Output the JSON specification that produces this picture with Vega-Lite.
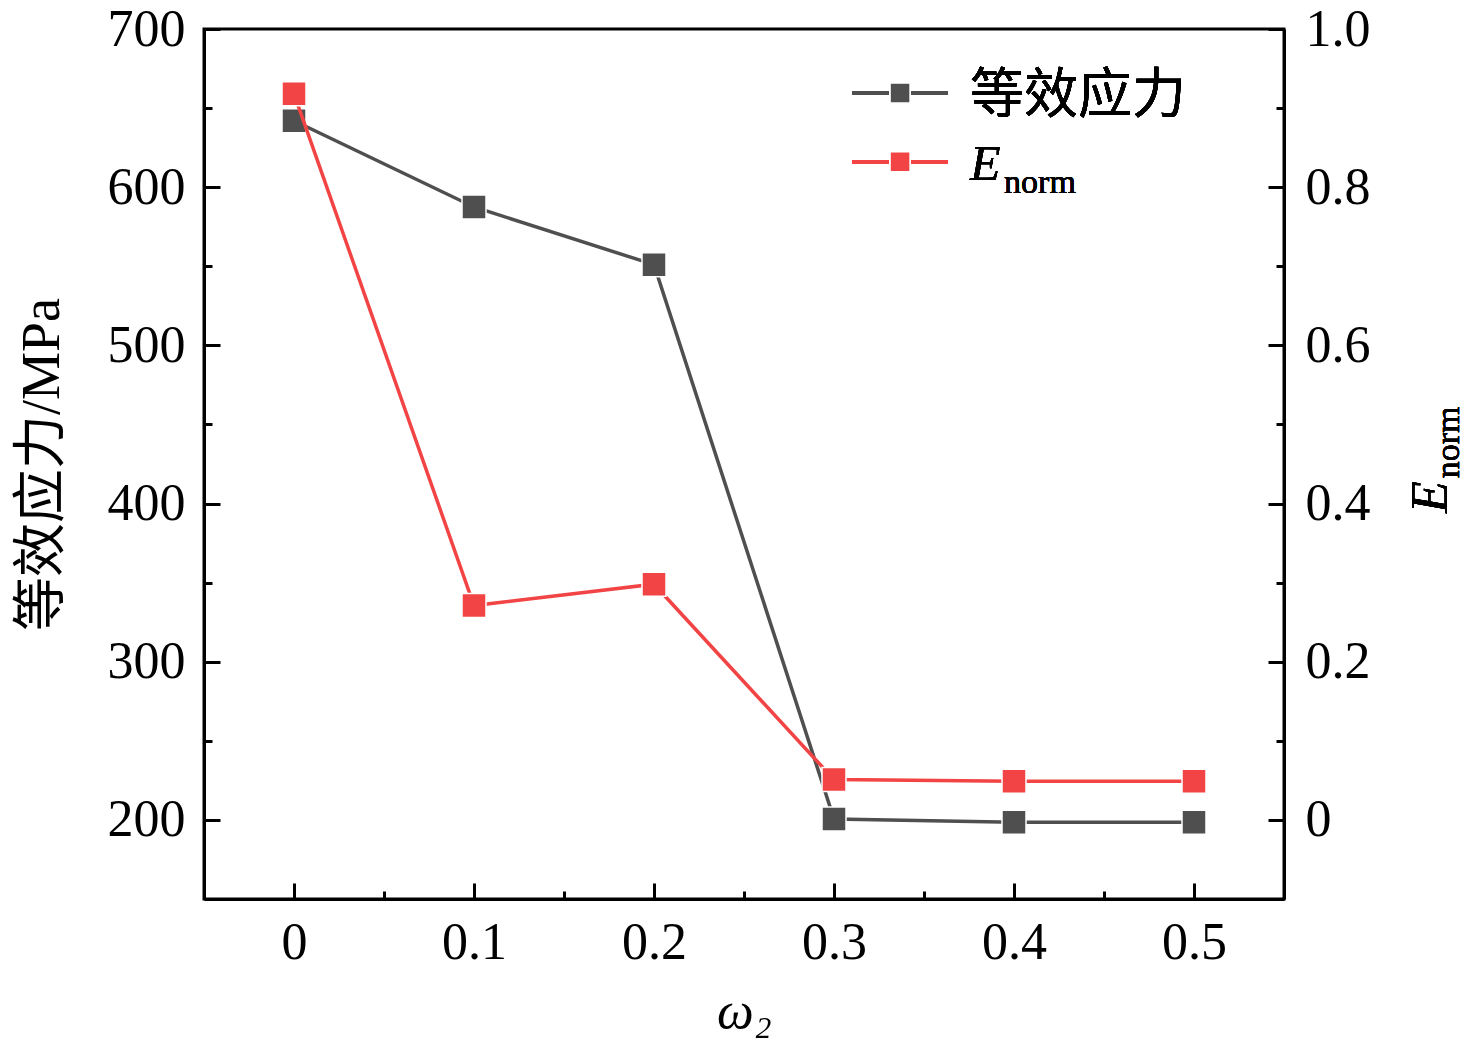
{
  "$schema": "https://vega.github.io/schema/vega-lite/v6.json",
  "width": 1080,
  "height": 870,
  "autosize": {"type": "none"},
  "padding": {"left": 204, "top": 29, "right": 192, "bottom": 154},
  "background": "white",
  "data": {
    "values": [
      {"w": 0.0, "stress": 642, "enorm": 0.918},
      {"w": 0.1, "stress": 587.5, "enorm": 0.271},
      {"w": 0.2, "stress": 551, "enorm": 0.298},
      {"w": 0.3, "stress": 200.6, "enorm": 0.051},
      {"w": 0.4, "stress": 198.5, "enorm": 0.049},
      {"w": 0.5, "stress": 198.5, "enorm": 0.049}
    ]
  },
  "layer": [
    {
      "layer": [
        {
          "mark": {"type": "line", "color": "#4f4f4f", "strokeWidth": 3.5},
          "encoding": {
            "x": {
              "field": "w", "type": "quantitative",
              "scale": {"domain": [-0.05, 0.55], "nice": false, "zero": false},
              "axis": {
                "orient": "bottom",
                "title": "ω₂",
                "titleFontStyle": "italic",
                "titlePadding": 10,
                "values": [0, 0.05, 0.1, 0.15, 0.2, 0.25, 0.3, 0.35, 0.4, 0.45, 0.5],
                "labelExpr": "round(datum.value*20) % 2 == 0 ? format(datum.value, '.1~f') : ''",
                "tickSize": {"condition": {"test": "round(datum.value*20) % 2 == 0", "value": -16}, "value": -8},
                "labelPadding": 34
              }
            },
            "y": {
              "field": "stress", "type": "quantitative",
              "scale": {"domain": [150, 700], "nice": false, "zero": false},
              "axis": {
                "orient": "left",
                "title": "等效应力/MPa",
                "titleFontSize": 54,
                "titlePadding": 38,
                "values": [200, 250, 300, 350, 400, 450, 500, 550, 600, 650, 700],
                "labelExpr": "datum.value % 100 == 0 ? datum.label : ''",
                "tickSize": {"condition": {"test": "datum.value % 100 == 0", "value": -16}, "value": -8},
                "labelPadding": 35
              }
            }
          }
        },
        {
          "mark": {"type": "point", "shape": "square", "filled": true, "size": 576, "color": "#4f4f4f", "stroke": "white", "strokeWidth": 1.5, "opacity": 1},
          "encoding": {
            "x": {"field": "w", "type": "quantitative"},
            "y": {"field": "stress", "type": "quantitative"}
          }
        },
        {
          "mark": {"type": "rule", "color": "#4f4f4f", "strokeWidth": 3.5},
          "encoding": {
            "x": {"datum": 0.31, "type": "quantitative"},
            "x2": {"datum": 0.3633},
            "y": {"datum": 659.5, "type": "quantitative"}
          }
        },
        {
          "mark": {"type": "point", "shape": "square", "filled": true, "size": 400, "color": "#4f4f4f", "stroke": "white", "strokeWidth": 1.5, "opacity": 1},
          "encoding": {
            "x": {"datum": 0.3367, "type": "quantitative"},
            "y": {"datum": 659.5, "type": "quantitative"}
          }
        },
        {
          "mark": {"type": "rule", "color": "#f24444", "strokeWidth": 3.5},
          "encoding": {
            "x": {"datum": 0.31, "type": "quantitative"},
            "x2": {"datum": 0.3633},
            "y": {"datum": 616, "type": "quantitative"}
          }
        },
        {
          "mark": {"type": "point", "shape": "square", "filled": true, "size": 400, "color": "#f24444", "stroke": "white", "strokeWidth": 1.5, "opacity": 1},
          "encoding": {
            "x": {"datum": 0.3367, "type": "quantitative"},
            "y": {"datum": 616, "type": "quantitative"}
          }
        },
        {
          "mark": {"type": "text", "text": "等效应力", "font": "Noto Sans CJK SC", "fontSize": 54, "align": "left", "baseline": "middle", "color": "black"},
          "encoding": {
            "x": {"datum": 0.3756, "type": "quantitative"},
            "y": {"datum": 657, "type": "quantitative"}
          }
        },
        {
          "mark": {"type": "text", "text": "E", "font": "Liberation Serif", "fontStyle": "italic", "fontSize": 50, "align": "left", "baseline": "alphabetic", "color": "black"},
          "encoding": {
            "x": {"datum": 0.3756, "type": "quantitative"},
            "y": {"datum": 604.6, "type": "quantitative"}
          }
        },
        {
          "mark": {"type": "text", "text": "norm", "font": "Liberation Serif", "fontSize": 34, "align": "left", "baseline": "alphabetic", "color": "black"},
          "encoding": {
            "x": {"datum": 0.3945, "type": "quantitative"},
            "y": {"datum": 596.3, "type": "quantitative"}
          }
        }
      ]
    },
    {
      "layer": [
        {
          "mark": {"type": "line", "color": "#f24444", "strokeWidth": 3.5},
          "encoding": {
            "x": {"field": "w", "type": "quantitative"},
            "y": {
              "field": "enorm", "type": "quantitative",
              "scale": {"domain": [-0.1, 1.0], "nice": false, "zero": false},
              "axis": {
                "orient": "right",
                "title": null,
                "values": [0, 0.1, 0.2, 0.3, 0.4, 0.5, 0.6, 0.7, 0.8, 0.9, 1.0],
                "labelExpr": "round(datum.value*10) % 2 == 0 ? (datum.value == 0 ? '0' : format(datum.value, '.1f')) : ''",
                "tickSize": {"condition": {"test": "round(datum.value*10) % 2 == 0", "value": -16}, "value": -8},
                "labelPadding": 37
              }
            }
          }
        },
        {
          "mark": {"type": "point", "shape": "square", "filled": true, "size": 576, "color": "#f24444", "stroke": "white", "strokeWidth": 1.5, "opacity": 1},
          "encoding": {
            "x": {"field": "w", "type": "quantitative"},
            "y": {"field": "enorm", "type": "quantitative"}
          }
        },
        {
          "mark": {"type": "text", "text": "E", "font": "Liberation Serif", "fontStyle": "italic", "fontSize": 52, "angle": 270, "align": "center", "baseline": "alphabetic", "dy": 163, "color": "black"},
          "encoding": {
            "x": {"datum": 0.55, "type": "quantitative"},
            "y": {"datum": 0.408, "type": "quantitative"}
          }
        },
        {
          "mark": {"type": "text", "text": "norm", "font": "Liberation Serif", "fontSize": 34, "angle": 270, "align": "left", "baseline": "alphabetic", "dx": 19, "dy": 175, "color": "black"},
          "encoding": {
            "x": {"datum": 0.55, "type": "quantitative"},
            "y": {"datum": 0.408, "type": "quantitative"}
          }
        }
      ]
    }
  ],
  "resolve": {"scale": {"y": "independent"}},
  "config": {
    "view": {"stroke": "black", "strokeWidth": 3},
    "axis": {
      "grid": false,
      "domainColor": "black",
      "domainWidth": 3,
      "tickColor": "black",
      "tickWidth": 3,
      "labelFont": "Liberation Serif",
      "labelFontSize": 52,
      "labelColor": "black",
      "labelFlush": false,
      "labelOverlap": false,
      "titleFont": "Liberation Serif, Noto Sans CJK SC",
      "titleFontSize": 52,
      "titleFontWeight": "normal",
      "titleColor": "black"
    }
  }
}
